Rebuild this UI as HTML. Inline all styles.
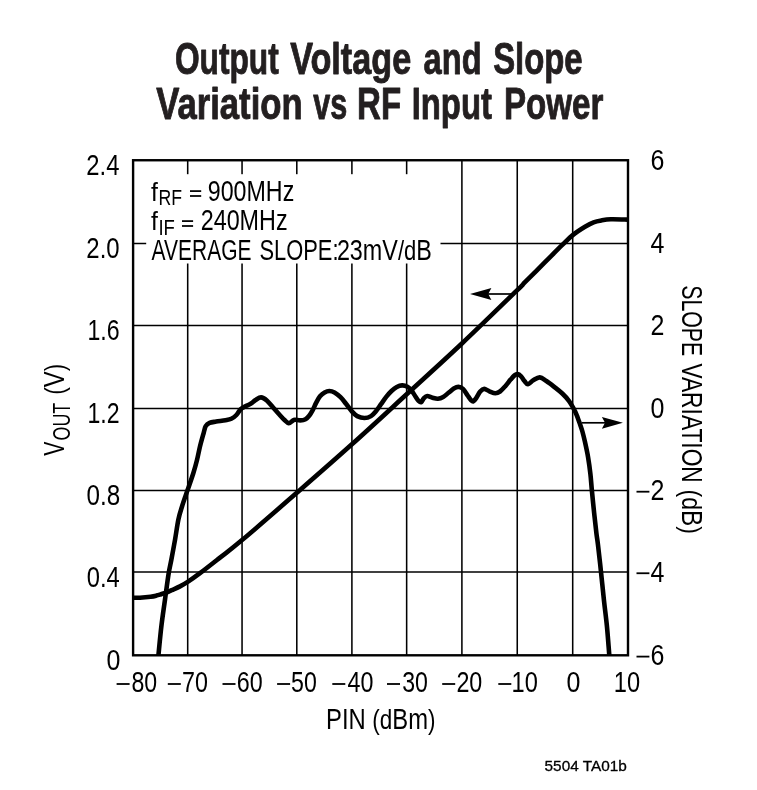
<!DOCTYPE html>
<html><head><meta charset="utf-8"><title>Output Voltage and Slope Variation vs RF Input Power</title>
<style>
html,body{margin:0;padding:0;background:#fff;}
body{width:757px;height:790px;overflow:hidden;}
svg text{font-family:"Liberation Sans",sans-serif;white-space:pre;}
</style></head><body>
<svg width="757" height="790" viewBox="0 0 757 790" style="display:block;will-change:transform">
<rect width="757" height="790" fill="#fff"/>
<g stroke="#000" stroke-width="1.55" fill="none">
<line x1="187.70" y1="160.24" x2="187.70" y2="655.30"/>
<line x1="242.05" y1="160.24" x2="242.05" y2="655.30"/>
<line x1="296.80" y1="160.24" x2="296.80" y2="655.30"/>
<line x1="351.90" y1="160.24" x2="351.90" y2="655.30"/>
<line x1="406.65" y1="160.24" x2="406.65" y2="655.30"/>
<line x1="461.90" y1="160.24" x2="461.90" y2="655.30"/>
<line x1="517.25" y1="160.24" x2="517.25" y2="655.30"/>
<line x1="572.70" y1="160.24" x2="572.70" y2="655.30"/>
<line x1="133.10" y1="243.40" x2="628.00" y2="243.40"/>
<line x1="133.10" y1="325.40" x2="628.00" y2="325.40"/>
<line x1="133.10" y1="408.40" x2="628.00" y2="408.40"/>
<line x1="133.10" y1="490.50" x2="628.00" y2="490.50"/>
<line x1="133.10" y1="572.05" x2="628.00" y2="572.05"/>
</g>
<rect x="146.2" y="174.2" width="294.3" height="89.3" fill="#fff"/>
<rect x="133.10" y="160.24" width="494.90" height="495.06" fill="none" stroke="#000" stroke-width="2.4"/>
<clipPath id="c"><rect x="133.10" y="160.24" width="494.90" height="496.36"/></clipPath>
<g clip-path="url(#c)" stroke="#000" stroke-width="4.6" fill="none" stroke-linejoin="round" stroke-linecap="butt">
<path d="M133.10 597.80 C134.25 597.78 137.08 597.88 140.00 597.70 C142.92 597.52 147.87 597.05 150.60 596.70 C153.33 596.35 154.65 596.02 156.40 595.60 C158.15 595.18 159.33 594.75 161.10 594.20 C162.87 593.65 165.23 592.98 167.00 592.30 C168.77 591.62 169.53 591.08 171.70 590.10 C173.87 589.12 177.33 587.77 180.00 586.40 C182.67 585.03 184.37 584.10 187.70 581.90 C191.03 579.70 194.62 577.25 200.00 573.20 C205.38 569.15 212.99 563.12 220.00 557.60 C227.01 552.08 229.25 550.90 242.05 540.10 C254.85 529.30 278.49 508.77 296.80 492.80 C315.11 476.83 333.59 460.72 351.90 444.30 C370.21 427.88 388.32 411.10 406.65 394.30 C424.98 377.50 443.47 360.87 461.90 343.50 C480.33 326.13 506.73 300.32 517.25 290.10 C527.77 279.88 520.38 286.85 525.00 282.20 C529.62 277.55 538.83 268.37 545.00 262.20 C551.17 256.03 557.38 249.72 562.00 245.20 C566.62 240.68 568.87 238.17 572.70 235.10 C576.53 232.03 581.52 228.93 585.00 226.80 C588.48 224.67 590.77 223.38 593.60 222.30 C596.43 221.22 599.13 220.80 602.00 220.30 C604.87 219.80 607.03 219.43 610.80 219.30 C614.57 219.17 621.73 219.45 624.60 219.50 C627.47 219.55 627.43 219.58 628.00 219.60"/>
<path d="M158.40 655.40 C158.90 650.50 160.30 635.30 161.40 626.00 C162.50 616.70 163.78 608.40 165.00 599.60 C166.22 590.80 167.65 579.80 168.70 573.20 C169.75 566.60 170.23 565.65 171.30 560.00 C172.37 554.35 173.92 546.07 175.10 539.30 C176.28 532.53 177.23 524.92 178.40 519.40 C179.57 513.88 180.60 511.00 182.10 506.20 C183.60 501.40 185.53 496.10 187.40 490.60 C189.27 485.10 191.70 478.30 193.30 473.20 C194.90 468.10 195.87 464.53 197.00 460.00 C198.13 455.47 198.98 450.53 200.10 446.00 C201.22 441.47 202.77 436.10 203.70 432.80 C204.63 429.50 204.72 427.85 205.70 426.20 C206.68 424.55 207.85 423.67 209.60 422.90 C211.35 422.13 213.55 422.03 216.20 421.60 C218.85 421.17 222.98 420.77 225.50 420.30 C228.02 419.83 229.48 419.68 231.30 418.80 C233.12 417.92 234.83 416.62 236.40 415.00 C237.97 413.38 239.22 410.53 240.70 409.10 C242.18 407.67 243.65 407.28 245.30 406.40 C246.95 405.52 248.88 404.87 250.60 403.80 C252.32 402.73 253.85 401.07 255.60 400.00 C257.35 398.93 259.23 397.33 261.10 397.40 C262.97 397.47 264.80 398.73 266.80 400.40 C268.80 402.07 271.05 405.08 273.10 407.40 C275.15 409.72 277.20 412.20 279.10 414.30 C281.00 416.40 282.88 418.52 284.50 420.00 C286.12 421.48 287.50 423.03 288.80 423.20 C290.10 423.37 291.28 421.58 292.30 421.00 C293.32 420.42 293.58 419.80 294.90 419.70 C296.22 419.60 298.43 420.48 300.20 420.40 C301.97 420.32 303.97 420.02 305.50 419.20 C307.03 418.38 308.20 417.00 309.40 415.50 C310.60 414.00 311.58 412.30 312.70 410.20 C313.82 408.10 314.88 405.22 316.10 402.90 C317.32 400.58 318.58 398.05 320.00 396.30 C321.42 394.55 323.05 393.28 324.60 392.40 C326.15 391.52 327.65 391.00 329.30 391.00 C330.95 391.00 332.63 391.37 334.50 392.40 C336.37 393.43 338.62 395.35 340.50 397.20 C342.38 399.05 343.90 401.13 345.80 403.50 C347.70 405.87 350.00 409.30 351.90 411.40 C353.80 413.50 355.12 415.00 357.20 416.10 C359.28 417.20 362.10 418.00 364.40 418.00 C366.70 418.00 369.02 417.30 371.00 416.10 C372.98 414.90 374.63 412.78 376.30 410.80 C377.97 408.82 379.35 406.52 381.00 404.20 C382.65 401.88 384.45 399.10 386.20 396.90 C387.95 394.70 389.73 392.65 391.50 391.00 C393.27 389.35 395.03 387.93 396.80 387.00 C398.57 386.07 400.33 385.45 402.10 385.40 C403.87 385.35 405.87 385.88 407.40 386.70 C408.93 387.52 409.98 388.72 411.30 390.30 C412.62 391.88 414.08 394.43 415.30 396.20 C416.52 397.97 417.62 399.90 418.60 400.90 C419.58 401.90 420.32 402.65 421.20 402.20 C422.08 401.75 422.90 399.23 423.90 398.20 C424.90 397.17 425.77 396.07 427.20 396.00 C428.63 395.93 430.72 397.33 432.50 397.80 C434.28 398.27 436.12 398.92 437.90 398.80 C439.68 398.68 441.43 398.10 443.20 397.10 C444.97 396.10 446.73 394.22 448.50 392.80 C450.27 391.38 452.15 389.58 453.80 388.60 C455.45 387.62 456.87 386.85 458.40 386.90 C459.93 386.95 461.47 387.47 463.00 388.90 C464.53 390.33 466.27 393.63 467.60 395.50 C468.93 397.37 470.05 399.12 471.00 400.10 C471.95 401.08 472.43 401.73 473.30 401.40 C474.17 401.07 475.05 399.75 476.20 398.10 C477.35 396.45 478.87 393.03 480.20 391.50 C481.53 389.97 482.67 388.93 484.20 388.90 C485.73 388.87 487.53 390.58 489.40 391.30 C491.27 392.02 493.63 393.17 495.40 393.20 C497.17 393.23 498.35 392.67 500.00 391.50 C501.65 390.33 503.53 388.18 505.30 386.20 C507.07 384.22 509.07 381.40 510.60 379.60 C512.13 377.80 513.35 376.32 514.50 375.40 C515.65 374.48 516.40 373.95 517.50 374.10 C518.60 374.25 519.93 375.15 521.10 376.30 C522.27 377.45 523.37 379.67 524.50 381.00 C525.63 382.33 526.45 384.42 527.90 384.30 C529.35 384.18 531.22 381.45 533.20 380.30 C535.18 379.15 537.60 377.28 539.80 377.40 C542.00 377.52 543.98 379.42 546.40 381.00 C548.82 382.58 551.65 384.82 554.30 386.90 C556.95 388.98 559.87 391.18 562.30 393.50 C564.73 395.82 567.03 398.32 568.90 400.80 C570.77 403.28 572.18 405.98 573.50 408.40 C574.82 410.82 575.70 412.62 576.80 415.30 C577.90 417.98 579.17 421.80 580.10 424.50 C581.03 427.20 581.58 428.57 582.40 431.50 C583.22 434.43 584.05 437.80 585.00 442.10 C585.95 446.40 587.20 451.98 588.10 457.30 C589.00 462.62 589.77 468.43 590.40 474.00 C591.03 479.57 591.27 484.12 591.90 490.70 C592.53 497.28 593.45 506.42 594.20 513.50 C594.95 520.58 595.77 527.95 596.40 533.20 C597.03 538.45 597.23 538.55 598.00 545.00 C598.77 551.45 600.00 562.62 601.00 571.90 C602.00 581.18 603.03 591.85 604.00 600.70 C604.97 609.55 606.03 617.40 606.80 625.00 C607.57 632.60 608.18 641.23 608.60 646.30 C609.02 651.37 609.18 653.88 609.30 655.40"/>
</g>
<g stroke="#000" stroke-width="1.7" fill="#000">
<line x1="488" y1="294" x2="512" y2="294"/>
<line x1="582" y1="422.8" x2="605.5" y2="422.8"/>
</g>
<path d="M470 294 L491.4 288.1 L488.2 294 L491.4 299.9 Z" fill="#000"/>
<path d="M622.9 422.8 L601.9 416.9 L605 422.8 L601.9 428.7 Z" fill="#000"/>
<text id="ta0" transform="translate(174.90 74.15) scale(0.7221 1)" font-size="43.9" font-weight="bold" fill="#231f20" stroke="#231f20" stroke-width="0.9" stroke-linejoin="round">Output</text>
<text id="ta1" transform="translate(290.19 74.15) scale(0.7793 1)" font-size="43.9" font-weight="bold" fill="#231f20" stroke="#231f20" stroke-width="0.9" stroke-linejoin="round">Voltage</text>
<text id="ta2" transform="translate(423.54 74.15) scale(0.7438 1)" font-size="43.9" font-weight="bold" fill="#231f20" stroke="#231f20" stroke-width="0.9" stroke-linejoin="round">and</text>
<text id="ta3" transform="translate(493.14 74.15) scale(0.7490 1)" font-size="43.9" font-weight="bold" fill="#231f20" stroke="#231f20" stroke-width="0.9" stroke-linejoin="round">Slope</text>
<text id="tb0" transform="translate(156.20 118.75) scale(0.7902 1)" font-size="43.9" font-weight="bold" fill="#231f20" stroke="#231f20" stroke-width="0.9" stroke-linejoin="round">Variation</text>
<text id="tb1" transform="translate(313.17 118.75) scale(0.6974 1)" font-size="43.9" font-weight="bold" fill="#231f20" stroke="#231f20" stroke-width="0.9" stroke-linejoin="round">vs</text>
<text id="tb2" transform="translate(357.12 118.75) scale(0.7525 1)" font-size="43.9" font-weight="bold" fill="#231f20" stroke="#231f20" stroke-width="0.9" stroke-linejoin="round">RF</text>
<text id="tb3" transform="translate(411.63 118.75) scale(0.7484 1)" font-size="43.9" font-weight="bold" fill="#231f20" stroke="#231f20" stroke-width="0.9" stroke-linejoin="round">Input</text>
<text id="tb4" transform="translate(504.01 118.75) scale(0.7543 1)" font-size="43.9" font-weight="bold" fill="#231f20" stroke="#231f20" stroke-width="0.9" stroke-linejoin="round">Power</text>
<text id="yl0" transform="translate(86.36 174.94) scale(0.8238 1)" font-size="28.9" font-weight="normal" fill="#000">2.4</text>
<text id="yl1" transform="translate(86.36 258.10) scale(0.8293 1)" font-size="28.9" font-weight="normal" fill="#000">2.0</text>
<text id="yl2" transform="translate(87.50 340.10) scale(0.8000 1)" font-size="28.9" font-weight="normal" fill="#000">1.6</text>
<text id="yl3" transform="translate(87.50 423.10) scale(0.8000 1)" font-size="28.9" font-weight="normal" fill="#000">1.2</text>
<text id="yl4" transform="translate(86.55 505.20) scale(0.8371 1)" font-size="28.9" font-weight="normal" fill="#000">0.8</text>
<text id="yl5" transform="translate(86.77 586.75) scale(0.8211 1)" font-size="28.9" font-weight="normal" fill="#000">0.4</text>
<text id="yl6" transform="translate(106.47 670.10) scale(0.8650 1)" font-size="28.9" font-weight="normal" fill="#000">0</text>
<text id="yr0" transform="translate(650.47 169.84) scale(0.8650 1)" font-size="28.9" font-weight="normal" fill="#000">6</text>
<text id="yr1" transform="translate(650.58 253.00) scale(0.8650 1)" font-size="28.9" font-weight="normal" fill="#000">4</text>
<text id="yr2" transform="translate(650.58 335.00) scale(0.8650 1)" font-size="28.9" font-weight="normal" fill="#000">2</text>
<text id="yr3" transform="translate(650.47 418.00) scale(0.8650 1)" font-size="28.9" font-weight="normal" fill="#000">0</text>
<text id="yr4" transform="translate(650.58 500.10) scale(0.8650 1)" font-size="28.9" font-weight="normal" fill="#000">2</text>
<rect class="mn" x="636.50" y="490.80" width="12.90" height="1.8" fill="#000"/>
<text id="yr5" transform="translate(650.58 581.65) scale(0.8650 1)" font-size="28.9" font-weight="normal" fill="#000">4</text>
<rect class="mn" x="636.50" y="572.35" width="12.90" height="1.8" fill="#000"/>
<text id="yr6" transform="translate(650.47 665.00) scale(0.8650 1)" font-size="28.9" font-weight="normal" fill="#000">6</text>
<rect class="mn" x="636.50" y="655.70" width="12.90" height="1.8" fill="#000"/>
<text id="xm0" transform="translate(131.50 692.40) scale(0.8000 1)" font-size="28.9" font-weight="normal" fill="#000">80</text>
<rect class="mn" x="116.60" y="683.10" width="13.00" height="1.8" fill="#000"/>
<text id="xm1" transform="translate(181.99 692.40) scale(0.8068 1)" font-size="28.9" font-weight="normal" fill="#000">70</text>
<rect class="mn" x="167.80" y="683.10" width="13.00" height="1.8" fill="#000"/>
<text id="xm2" transform="translate(236.69 692.40) scale(0.8068 1)" font-size="28.9" font-weight="normal" fill="#000">60</text>
<rect class="mn" x="222.50" y="683.10" width="13.00" height="1.8" fill="#000"/>
<text id="xm3" transform="translate(291.10 692.40) scale(0.8000 1)" font-size="28.9" font-weight="normal" fill="#000">50</text>
<rect class="mn" x="277.10" y="683.10" width="13.00" height="1.8" fill="#000"/>
<text id="xm4" transform="translate(347.50 692.40) scale(0.8066 1)" font-size="28.9" font-weight="normal" fill="#000">40</text>
<rect class="mn" x="332.30" y="683.10" width="13.00" height="1.8" fill="#000"/>
<text id="xm5" transform="translate(402.20 692.40) scale(0.8000 1)" font-size="28.9" font-weight="normal" fill="#000">30</text>
<rect class="mn" x="387.00" y="683.10" width="13.00" height="1.8" fill="#000"/>
<text id="xm6" transform="translate(456.39 692.40) scale(0.8068 1)" font-size="28.9" font-weight="normal" fill="#000">20</text>
<rect class="mn" x="442.20" y="683.10" width="13.00" height="1.8" fill="#000"/>
<text id="xm7" transform="translate(511.56 692.40) scale(0.8174 1)" font-size="28.9" font-weight="normal" fill="#000">10</text>
<rect class="mn" x="498.30" y="683.10" width="13.00" height="1.8" fill="#000"/>
<text id="x0" transform="translate(566.42 692.40) scale(0.8650 1)" font-size="28.9" font-weight="normal" fill="#000">0</text>
<text id="x10" transform="translate(613.86 692.40) scale(0.8174 1)" font-size="28.9" font-weight="normal" fill="#000">10</text>
<text id="xlab" transform="translate(326.05 728.70) scale(0.8240 1)" font-size="28.9" font-weight="normal" fill="#000">PIN <tspan font-size="27.3">(d</tspan>Bm<tspan font-size="27.3">)</tspan></text>
<text id="code" transform="translate(544.58 770.80) scale(1.0390 1)" font-size="14.8" font-weight="normal" fill="#000" stroke="#000" stroke-width="0.3" stroke-linejoin="round">5504 TA01b</text>
<text id="a1f" transform="translate(150.98 200.50) scale(0.9300 1)" font-size="26.7" font-weight="normal" fill="#000">f</text>
<text id="a1s" transform="translate(158.54 205.40) scale(0.7748 1)" font-size="22.8" font-weight="normal" fill="#000">RF</text>
<text id="a1n" transform="translate(207.80 200.50) scale(0.8038 1)" font-size="28.9" font-weight="normal" fill="#000">900MHz</text>
<text id="a2f" transform="translate(150.98 230.40) scale(0.9300 1)" font-size="26.7" font-weight="normal" fill="#000">f</text>
<text id="a2s" transform="translate(158.38 235.30) scale(0.8116 1)" font-size="22.8" font-weight="normal" fill="#000">IF</text>
<text id="a2n" transform="translate(200.69 230.40) scale(0.8076 1)" font-size="28.9" font-weight="normal" fill="#000">240MHz</text>
<text id="a3a" transform="translate(151.60 260.40) scale(0.7266 1)" font-size="28.9" font-weight="normal" fill="#000">AVERAGE</text>
<text id="a3b" transform="translate(259.45 260.40) scale(0.7572 1)" font-size="28.9" font-weight="normal" fill="#000">SLOPE:</text>
<text id="a3c" transform="translate(336.89 260.40) scale(0.8079 1)" font-size="28.9" font-weight="normal" fill="#000">23mV<tspan font-size="27.3">/d</tspan>B</text>
<text id="yll1" transform="translate(63.70 455.78) rotate(-90) scale(0.7307 1)" font-size="28.9" font-weight="normal" fill="#000">V</text>
<text id="yll2" transform="translate(69.70 440.53) rotate(-90) scale(0.7467 1)" font-size="24" font-weight="normal" fill="#000">OUT</text>
<text id="yll3" transform="translate(63.70 394.75) rotate(-90) scale(0.8265 1)" font-size="28.9" font-weight="normal" fill="#000"><tspan font-size="27.3">(</tspan>V<tspan font-size="27.3">)</tspan></text>
<text id="yrl1" transform="translate(681.60 285.18) rotate(90) scale(0.7371 1)" font-size="28.9" font-weight="normal" fill="#000">SLOPE</text>
<text id="yrl2" transform="translate(681.60 363.40) rotate(90) scale(0.7886 1)" font-size="28.9" font-weight="normal" fill="#000">VARIATION</text>
<text id="yrl3" transform="translate(681.60 489.53) rotate(90) scale(0.8406 1)" font-size="28.9" font-weight="normal" fill="#000"><tspan font-size="27.3">(d</tspan>B<tspan font-size="27.3">)</tspan></text>
<rect class="mn" x="190.00" y="190.22" width="11.20" height="1.75" fill="#000"/>
<rect class="mn" x="190.00" y="195.12" width="11.20" height="1.75" fill="#000"/>
<rect class="mn" x="182.00" y="220.22" width="11.10" height="1.75" fill="#000"/>
<rect class="mn" x="182.00" y="225.12" width="11.10" height="1.75" fill="#000"/>
</svg>
</body></html>
